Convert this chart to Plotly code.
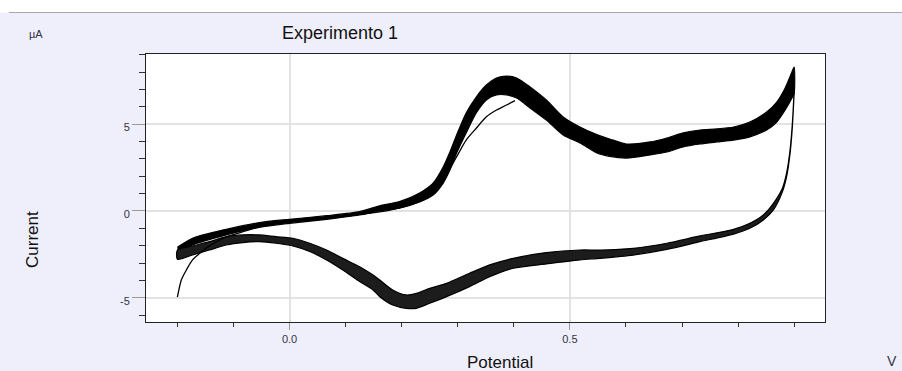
import plotly.graph_objects as go

# ---------------- data ----------------
# Anodic (forward) sweep: envelope of the overlapping cycles
fwd_potential = [-0.200, -0.173, -0.113, -0.054, 0.000, 0.066, 0.125, 0.161, 0.196, 0.232,
                 0.256, 0.274, 0.286, 0.298, 0.315, 0.333, 0.351, 0.369, 0.387, 0.405,
                 0.429, 0.458, 0.488, 0.518, 0.548, 0.571, 0.601, 0.643, 0.673, 0.702,
                 0.732, 0.762, 0.792, 0.821, 0.851, 0.869, 0.884, 0.896, 0.900]
fwd_current_upper = [-2.09, -1.57, -1.06, -0.67, -0.48, -0.27, -0.04, 0.30, 0.54, 1.04,
                     1.61, 2.54, 3.40, 4.38, 5.65, 6.57, 7.26, 7.67, 7.78, 7.67,
                     7.15, 6.40, 5.42, 4.84, 4.40, 4.15, 3.86, 3.98, 4.21, 4.50,
                     4.67, 4.73, 4.84, 5.13, 5.71, 6.28, 7.09, 8.01, 8.30]
fwd_current_lower = [-2.44, -1.96, -1.38, -0.94, -0.71, -0.48, -0.23, 0.00, 0.16, 0.52,
                     0.92, 1.61, 2.36, 3.34, 4.50, 5.65, 6.40, 6.69, 6.69, 6.51,
                     5.94, 5.24, 4.38, 3.92, 3.35, 3.15, 3.05, 3.23, 3.40, 3.69,
                     3.86, 3.98, 4.09, 4.27, 4.67, 5.13, 5.82, 6.51, 6.80]

# Cathodic (reverse) sweep: envelope of the overlapping cycles
rev_potential = [0.900, 0.897, 0.893, 0.887, 0.879, 0.863, 0.845, 0.821, 0.792, 0.732,
                 0.673, 0.613, 0.554, 0.518, 0.458, 0.399, 0.357, 0.321, 0.280, 0.250,
                 0.226, 0.208, 0.184, 0.161, 0.149, 0.125, 0.095, 0.066, 0.036, 0.006,
                 -0.024, -0.054, -0.083, -0.113, -0.143, -0.173, -0.200]
rev_current_upper = [7.00, 5.15, 3.61, 2.27, 1.31, 0.44, -0.23, -0.71, -1.06, -1.44,
                     -1.86, -2.15, -2.25, -2.25, -2.40, -2.73, -3.11, -3.59, -4.17, -4.46,
                     -4.75, -4.84, -4.55, -3.98, -3.69, -3.21, -2.73, -2.25, -1.86, -1.57,
                     -1.48, -1.38, -1.38, -1.48, -1.77, -2.02, -2.25]
rev_current_lower = [6.80, 4.95, 3.40, 2.05, 1.10, 0.06, -0.52, -1.00, -1.33, -1.77,
                     -2.21, -2.54, -2.73, -2.82, -3.05, -3.30, -3.79, -4.36, -4.94, -5.32,
                     -5.61, -5.61, -5.42, -4.94, -4.55, -4.07, -3.40, -2.82, -2.34, -2.02,
                     -1.86, -1.77, -1.82, -1.96, -2.25, -2.54, -2.78]

# First cycle (thin line, visible where it leaves the bundle)
first_potential = [-0.200, -0.193, -0.184, -0.173, -0.157, -0.143, -0.113, -0.084, -0.054, -0.023,
                   0.000, 0.066, 0.125, 0.179, 0.232, 0.256, 0.274, 0.280, 0.298, 0.315,
                   0.333, 0.351, 0.369, 0.387, 0.402]
first_current = [-4.96, -3.98, -3.40, -2.82, -2.36, -2.02, -1.50, -1.21, -0.92, -0.69,
                 -0.62, -0.44, -0.20, 0.05, 0.55, 0.95, 1.65, 2.05, 3.13, 4.09,
                 4.77, 5.43, 5.82, 6.11, 6.36]

x_tick_vals = [0.0, 0.5]
x_tick_text = ["0.0", "0.5"]
y_tick_vals = [-5, 0, 5]
y_tick_text = ["-5", "0", "5"]

title_text = "Experimento 1"
x_title = "Potential"
y_title = "Current"
x_unit = "V"
y_unit = "µA"

# ---------------- layout geometry ----------------
W, H = 902, 371
L, R, T, B = 146, 825, 54, 322
FONT = "Liberation Sans, Arial, sans-serif"
BG = "#EFEFFB"


def px(x):
    return (x - L) / (R - L)


def py(y):
    return (B - y) / (B - T)


fig = go.Figure()

# forward band
fig.add_trace(go.Scatter(
    x=fwd_potential + fwd_potential[::-1],
    y=fwd_current_upper + fwd_current_lower[::-1],
    mode="lines", fill="toself", fillcolor="#000000",
    line=dict(color="#000000", width=1.2, shape="spline", smoothing=0.7),
    hoverinfo="skip", showlegend=False))

# reverse band
fig.add_trace(go.Scatter(
    x=rev_potential + rev_potential[::-1],
    y=rev_current_upper + rev_current_lower[::-1],
    mode="lines", fill="toself", fillcolor="#1c1c1c",
    line=dict(color="#000000", width=1.2, shape="spline", smoothing=0.7),
    hoverinfo="skip", showlegend=False))

# first cycle
fig.add_trace(go.Scatter(
    x=first_potential, y=first_current, mode="lines",
    line=dict(color="#000000", width=1.3, shape="spline", smoothing=0.7),
    hoverinfo="skip", showlegend=False))

axis_common = dict(
    showline=True, mirror=True, linecolor="#222222", linewidth=1,
    ticks="outside", tickcolor="#9a9a9a", tickwidth=1,
    showgrid=True, gridcolor="#E2E2E2", gridwidth=1.5,
    zeroline=False, tickmode="array",
    tickfont=dict(family=FONT, size=11, color="#333344"),
)

fig.update_xaxes(
    **axis_common, range=[-0.256, 0.955],
    tickvals=x_tick_vals, ticktext=x_tick_text, ticklen=7,
    minor=dict(dtick=0.1, tick0=0, ticks="outside", ticklen=4,
               tickcolor="#333333", showgrid=False),
)
fig.update_yaxes(
    **axis_common, range=[-6.4, 9.05],
    tickvals=y_tick_vals, ticktext=y_tick_text, ticklen=13,
    ticklabelshift=3,
    minor=dict(dtick=1, tick0=0, ticks="outside", ticklen=6,
               tickcolor="#333333", showgrid=False),
)

shapes = [
    dict(type="rect", xref="paper", yref="paper", x0=px(0), x1=px(W), y0=py(12.5), y1=py(0),
         fillcolor="#FFFFFF", line=dict(width=0), layer="below"),
    dict(type="line", xref="paper", yref="paper", x0=px(9), x1=px(W), y0=py(12.5), y1=py(12.5),
         line=dict(color="#A8A8A8", width=1.2), layer="below"),
]

annotations = [
    dict(text=title_text, x=px(340), y=py(33), xref="paper", yref="paper",
         showarrow=False, xanchor="center", yanchor="middle",
         font=dict(family=FONT, size=18, color="#111111")),
    dict(text=y_unit, x=px(36), y=py(34), xref="paper", yref="paper",
         showarrow=False, xanchor="center", yanchor="middle",
         font=dict(family=FONT, size=11, color="#333344")),
    dict(text=y_title, x=px(32), y=py(240), xref="paper", yref="paper",
         showarrow=False, xanchor="center", yanchor="middle", textangle=-90,
         font=dict(family=FONT, size=17, color="#111111")),
    dict(text=x_title, x=px(500), y=py(362), xref="paper", yref="paper",
         showarrow=False, xanchor="center", yanchor="middle",
         font=dict(family=FONT, size=17, color="#111111")),
    dict(text=x_unit, x=px(892), y=py(361), xref="paper", yref="paper",
         showarrow=False, xanchor="center", yanchor="middle",
         font=dict(family=FONT, size=14, color="#333344")),
]

fig.update_layout(
    width=W, height=H,
    margin=dict(l=L, r=W - R, t=T, b=H - B, pad=0),
    paper_bgcolor=BG, plot_bgcolor="#FFFFFF",
    shapes=shapes, annotations=annotations,
    showlegend=False,
    font=dict(family=FONT),
)

fig.write_html("out.html", config={"displayModeBar": False})
